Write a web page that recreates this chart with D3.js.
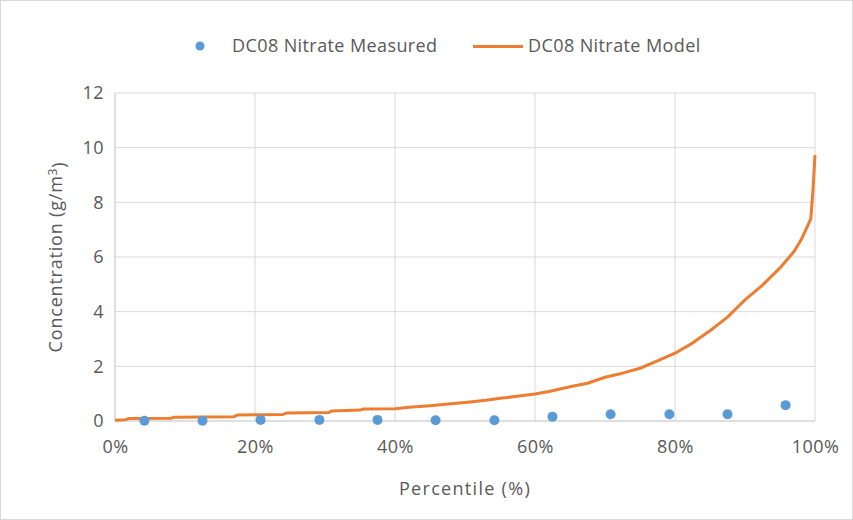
<!DOCTYPE html>
<meta charset="utf-8">
<style>
body { margin: 0; background: #fff; }
.axis text { fill: #595959; font-family: 'Open Sans'; font-size: 18px; letter-spacing: 0.5px; }
.axis line, .axis path { stroke: none; }
</style>
<body>
<div id="chart"></div>
<script src="https://d3js.org/d3.v7.min.js"></script>
<script>

    // measured samples (percentile %, g/m3)
    var measPct = [4.2, 12.5, 20.8, 29.2, 37.5, 45.8, 54.2, 62.5, 70.8, 79.2, 87.5, 95.8];
    var measVal = [0.01, 0.01, 0.04, 0.04, 0.04, 0.03, 0.03, 0.16, 0.25, 0.25, 0.25, 0.58];

    // model curve (percentile %, g/m3)
    var modelPct = [0, 1.5, 2, 8, 8.5, 17, 17.5, 24, 24.5, 30.5, 31, 35, 35.5, 40, 42, 45, 48, 50, 53, 55, 58, 60, 62, 65, 67.5, 70, 72.5, 75, 77.5, 80, 82.5, 85, 87.5, 90, 92.5, 95, 97, 98, 99, 99.4, 99.7, 100];
    var modelVal = [0.03, 0.05, 0.09, 0.1, 0.14, 0.16, 0.22, 0.24, 0.29, 0.31, 0.37, 0.4, 0.44, 0.45, 0.5, 0.56, 0.63, 0.68, 0.76, 0.83, 0.92, 0.99, 1.08, 1.25, 1.38, 1.6, 1.75, 1.93, 2.2, 2.48, 2.85, 3.3, 3.8, 4.43, 4.97, 5.6, 6.2, 6.62, 7.17, 7.4, 8.4, 9.73];

    var xTicks = [0, 20, 40, 60, 80, 100];
    var yTicks = [0, 2, 4, 6, 8, 10, 12];

    var W = 853, H = 520;
    var margin = {top: 93, right: 38, bottom: 99, left: 115},
        width = W - margin.left - margin.right,
        height = H - margin.top - margin.bottom;

    var svg = d3.select("#chart").append("svg")
        .attr("width", W)
        .attr("height", H);

    // outer chart border
    svg.append("rect")
        .attr("x", 0.5).attr("y", 0.5)
        .attr("width", W - 1).attr("height", H - 1)
        .style("fill", "#fff")
        .style("stroke", "#d9d9d9");

    var g = svg.append("g")
        .attr("transform", "translate(" + margin.left + "," + margin.top + ")");

    var x = d3.scaleLinear().domain([0, 100]).range([0, width]);
    var y = d3.scaleLinear().domain([0, 12]).range([height, 0]);

    // gridlines
    g.selectAll(".hgrid")
        .data(yTicks.slice(1))
        .enter().append("line")
        .attr("x1", 0).attr("x2", width)
        .attr("y1", function(d) { return y(d); })
        .attr("y2", function(d) { return y(d); })
        .style("stroke", "#d9d9d9");

    g.selectAll(".vgrid")
        .data(xTicks.slice(1))
        .enter().append("line")
        .attr("y1", 0).attr("y2", height)
        .attr("x1", function(d) { return x(d); })
        .attr("x2", function(d) { return x(d); })
        .style("stroke", "#d9d9d9");

    // axis lines
    g.append("line")
        .attr("x1", 0).attr("x2", 0).attr("y1", 0).attr("y2", height)
        .style("stroke", "#bfbfbf");
    g.append("line")
        .attr("x1", 0).attr("x2", width).attr("y1", height).attr("y2", height)
        .style("stroke", "#bfbfbf");

    // X axis
    g.append("g")
        .attr("class", "axis")
        .attr("transform", "translate(0," + height + ")")
        .call(d3.axisBottom(x).tickValues(xTicks).tickFormat(function(d) { return d + "%"; }).tickSize(0).tickPadding(19));

    // Y axis
    g.append("g")
        .attr("class", "axis")
        .call(d3.axisLeft(y).tickValues(yTicks).tickSize(0).tickPadding(11));

    // model line
    var modelData = modelPct.map(function(p, i) { return {p: p, v: modelVal[i]}; });
    var line = d3.line()
        .x(function(d) { return x(d.p); })
        .y(function(d) { return y(d.v); });

    g.append("path")
        .datum(modelData)
        .attr("d", line)
        .style("fill", "none")
        .style("stroke", "#ed7d31")
        .style("stroke-width", 3)
        .style("stroke-linejoin", "round");

    // measured points
    g.selectAll(".dot")
        .data(measPct)
        .enter().append("circle")
        .attr("cx", function(d) { return x(d); })
        .attr("cy", function(d, i) { return y(measVal[i]); })
        .attr("r", 5)
        .style("fill", "#5b9bd5");

    // axis titles
    svg.append("text")
        .attr("x", 465)
        .attr("y", 495)
        .attr("text-anchor", "middle")
        .style("font-family", "Open Sans")
        .style("font-size", "18px")
        .style("letter-spacing", "1.3px")
        .style("fill", "#595959")
        .text("Percentile (%)");

    var yt = svg.append("text")
        .attr("transform", "translate(62,257) rotate(-90)")
        .attr("text-anchor", "middle")
        .style("font-family", "Open Sans")
        .style("font-size", "18px")
        .style("letter-spacing", "0.8px")
        .style("fill", "#595959");
    yt.append("tspan").text("Concentration (g/m");
    yt.append("tspan").attr("dy", "-0.45em").style("font-size", "12px").text("3");
    yt.append("tspan").attr("dy", "0.45em").text(")");

    // legend
    svg.append("circle")
        .attr("cx", 200).attr("cy", 46).attr("r", 4.5)
        .style("fill", "#5b9bd5");
    svg.append("text")
        .attr("x", 232).attr("y", 52)
        .style("font-family", "Open Sans")
        .style("font-size", "18px")
        .style("letter-spacing", "0.4px")
        .style("fill", "#595959")
        .text("DC08 Nitrate Measured");
    svg.append("line")
        .attr("x1", 473).attr("x2", 523).attr("y1", 46.5).attr("y2", 46.5)
        .style("stroke", "#ed7d31")
        .style("stroke-width", 3);
    svg.append("text")
        .attr("x", 528).attr("y", 52)
        .style("font-family", "Open Sans")
        .style("font-size", "18px")
        .style("letter-spacing", "0.4px")
        .style("fill", "#595959")
        .text("DC08 Nitrate Model");

</script>
</body>
